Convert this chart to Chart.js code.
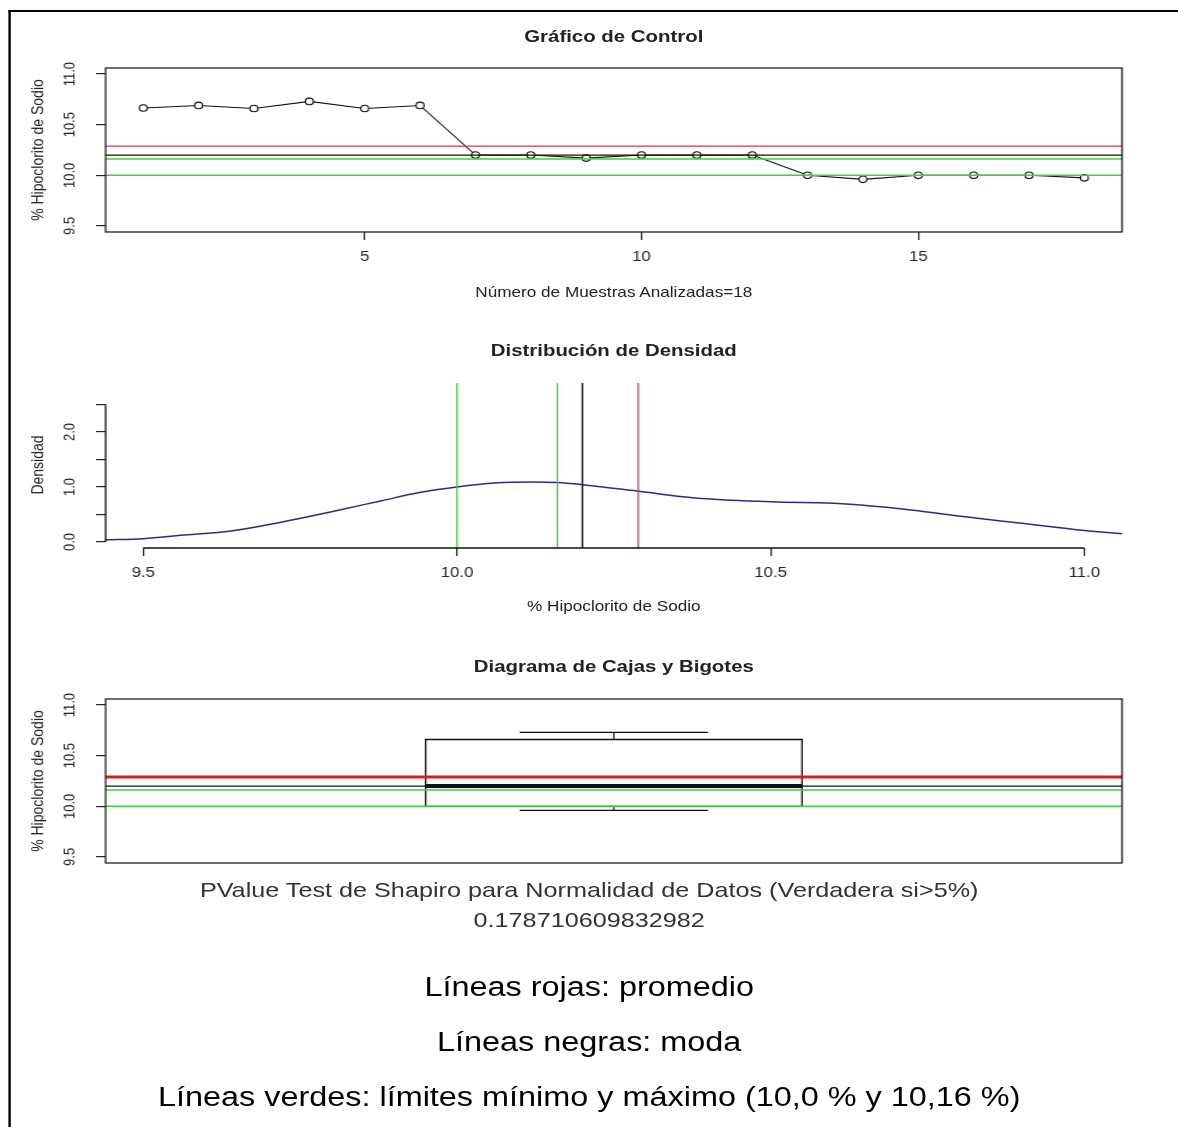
<!DOCTYPE html>
<html>
<head>
<meta charset="utf-8">
<script src="https://cdn.jsdelivr.net/npm/chart.js@4/dist/chart.umd.min.js"></script>
<style>
    html, body { margin: 0; padding: 0; background: #fff; overflow: hidden; }
    body { width: 1178px; height: 1127px; }
    #hoja {
        position: absolute; left: 0; top: 0;
        width: 982px; height: 1127px;
        transform: scaleX(1.2); transform-origin: 0 0;
        font-family: "Liberation Sans", Arial, sans-serif;
    }
    #marco {
        position: absolute; left: 7px; top: 10px; width: 1200px; height: 1300px;
        border-left: 2px solid #000; border-top: 2px solid #000;
    }
    canvas { position: absolute; left: 0; }
    .txt { position: absolute; white-space: nowrap; text-align: center; color: #222; }
    .titulo { left: 88px; width: 847px; font-weight: bold; font-size: 17px; line-height: 20px; }
    .ejex { left: 88px; width: 847px; font-size: 14.3px; line-height: 20px; }
    .ejey { width: 220px; height: 20px; font-size: 14px; line-height: 20px; transform: rotate(-90deg); }
    .pie { left: 0; width: 982px; }
    .nota { font-size: 27px; line-height: 34px; color: #000; }
</style>
</head>
<body>
<div id="hoja">
    <div id="marco"></div>

    <div class="txt titulo" style="top:27px">Gráfico de Control</div>
    <canvas id="control" width="982" height="300" style="top:0"></canvas>
    <div class="txt ejey" style="left:-79px; top:140px">% Hipoclorito de Sodio</div>
    <div class="txt ejex" style="top:282px">Número de Muestras Analizadas=18</div>

    <div class="txt titulo" style="top:341px">Distribución de Densidad</div>
    <canvas id="densidad" width="982" height="320" style="top:300px"></canvas>
    <div class="txt ejey" style="left:-79px; top:455px">Densidad</div>
    <div class="txt ejex" style="top:596px">% Hipoclorito de Sodio</div>

    <div class="txt titulo" style="top:657px">Diagrama de Cajas y Bigotes</div>
    <canvas id="cajas" width="982" height="260" style="top:620px"></canvas>
    <div class="txt ejey" style="left:-79px; top:771px">% Hipoclorito de Sodio</div>

    <div class="txt pie" style="top:877px; font-size:21px; line-height:26px; color:#333">PValue Test de Shapiro para Normalidad de Datos (Verdadera si&gt;5%)</div>
    <div class="txt pie" id="pvalor" style="top:907px; font-size:21px; line-height:26px; color:#333"></div>

    <div class="txt pie nota" style="top:970px">Líneas rojas: promedio</div>
    <div class="txt pie nota" style="top:1025px">Líneas negras: moda</div>
    <div class="txt pie nota" style="top:1080px">Líneas verdes: límites mínimo y máximo (10,0 % y 10,16 %)</div>
</div>

<script>
// Muestras analizadas y % de hipoclorito medido en cada una
const muestras = [1, 2, 3, 4, 5, 6, 7, 8, 9, 10, 11, 12, 13, 14, 15, 16, 17, 18];
const hipoclorito = [10.665, 10.69, 10.66, 10.73, 10.66, 10.69, 10.2, 10.2, 10.17,
                     10.2, 10.2, 10.2, 10.0, 9.96, 10.0, 10.0, 10.0, 9.975];

// Límites mínimo y máximo
const limites = [10.0, 10.16];

// Curva de densidad estimada
const densidadX = [9.44, 9.5, 9.56, 9.64, 9.72, 9.8, 9.88, 9.94, 10.0, 10.06, 10.12,
                   10.16, 10.2, 10.29, 10.38, 10.5, 10.62, 10.71, 10.8, 10.9, 11.0, 11.06];
const densidadY = [0.04, 0.06, 0.12, 0.2, 0.36, 0.55, 0.75, 0.9, 1.0, 1.07, 1.09,
                   1.08, 1.04, 0.92, 0.8, 0.73, 0.69, 0.6, 0.47, 0.34, 0.21, 0.15];

// Marcas de los ejes
const ticksMuestras = [5, 10, 15];
const ticksHipo = [9.5, 10.0, 10.5, 11.0];
const ticksDensX = [9.5, 10.0, 10.5, 11.0];
const ticksDensY = [0, 0.5, 1.0, 1.5, 2.0, 2.5];
const etiquetasDensY = [0, 1.0, 2.0];

const pValor = '0.178710609832982';

document.getElementById('pvalor').textContent = pValor;

// Estadísticos
const promedio = hipoclorito.reduce((a, b) => a + b, 0) / hipoclorito.length;

function calcularModa(v) {
    const cuenta = {};
    v.forEach(x => { cuenta[x] = (cuenta[x] || 0) + 1; });
    let moda = v[0];
    Object.keys(cuenta).forEach(k => { if (cuenta[k] > cuenta[moda]) moda = Number(k); });
    return moda;
}
const moda = calcularModa(hipoclorito);

// mínimo, bisagra inferior, mediana, bisagra superior, máximo (como fivenum de R)
function cincoNumeros(v) {
    const s = [...v].sort((a, b) => a - b);
    const n = s.length;
    const n4 = Math.floor((n + 3) / 2) / 2;
    const d = [1, n4, (n + 1) / 2, n + 1 - n4, n];
    return d.map(i => 0.5 * (s[Math.floor(i) - 1] + s[Math.ceil(i) - 1]));
}
const [minimo, q1, mediana, q3, maximo] = cincoNumeros(hipoclorito);

const FUENTE = '"Liberation Sans", Arial, sans-serif';
const ROJO = '#cf3a48';
const VERDE = '#45cc45';

// Etiquetas del eje Y giradas, como en los gráficos de R
const etiquetasY = {
    id: 'etiquetasY',
    afterDraw(chart, args, opts) {
        const y = chart.scales.y, ctx = chart.ctx;
        ctx.save();
        ctx.font = '13px ' + FUENTE;
        ctx.fillStyle = '#222';
        ctx.textAlign = 'center';
        ctx.textBaseline = 'middle';
        opts.valores.forEach(v => {
            ctx.save();
            ctx.translate(opts.x, y.getPixelForValue(v));
            ctx.rotate(-Math.PI / 2);
            ctx.fillText(v.toFixed(1), 0, 0);
            ctx.restore();
        });
        ctx.restore();
    }
};

// Líneas de referencia (promedio, moda y límites) y marco del área
const lineasRef = {
    id: 'lineasRef',
    afterDatasetsDraw(chart, args, opts) {
        const {ctx, chartArea: a, scales} = chart;
        ctx.save();
        (opts.horizontales || []).forEach(l => {
            const py = scales.y.getPixelForValue(l.valor);
            ctx.beginPath();
            ctx.strokeStyle = l.color;
            ctx.lineWidth = l.ancho;
            ctx.moveTo(a.left, py);
            ctx.lineTo(a.right, py);
            ctx.stroke();
        });
        (opts.verticales || []).forEach(l => {
            const px = scales.x.getPixelForValue(l.valor);
            ctx.beginPath();
            ctx.strokeStyle = l.color;
            ctx.lineWidth = l.ancho;
            ctx.moveTo(px, a.top);
            ctx.lineTo(px, a.bottom);
            ctx.stroke();
        });
        if (opts.marco) {
            ctx.strokeStyle = '#222';
            ctx.lineWidth = 1.3;
            ctx.strokeRect(a.left, a.top, a.right - a.left, a.bottom - a.top);
        }
        if (opts.ejesParciales) {
            const x = scales.x, y = scales.y;
            ctx.strokeStyle = '#111';
            ctx.lineWidth = 1.3;
            ctx.beginPath();
            ctx.moveTo(x.getPixelForValue(ticksDensX[0]), a.bottom);
            ctx.lineTo(x.getPixelForValue(ticksDensX[ticksDensX.length - 1]), a.bottom);
            ctx.moveTo(a.left, y.getPixelForValue(ticksDensY[0]));
            ctx.lineTo(a.left, y.getPixelForValue(ticksDensY[ticksDensY.length - 1]));
            ctx.stroke();
        }
        ctx.restore();
    }
};

const marcas = {
    display: true, drawOnChartArea: false, drawTicks: true,
    tickLength: 8, color: '#222', lineWidth: 1.2
};

function ejeFijo(valores, tamano, horizontal) {
    return {
        afterBuildTicks: s => { s.ticks = valores.map(v => ({value: v})); },
        afterFit: s => { if (horizontal) s.height = tamano; else s.width = tamano; }
    };
}

// Gráfico de control
new Chart(document.getElementById('control'), {
    type: 'scatter',
    data: {
        datasets: [{
            data: muestras.map((m, i) => ({x: m, y: hipoclorito[i]})),
            showLine: true,
            borderColor: '#111',
            borderWidth: 1.1,
            pointRadius: 3.3,
            pointBorderWidth: 1.1,
            pointBorderColor: '#111',
            pointBackgroundColor: '#fff'
        }]
    },
    options: {
        responsive: false,
        animation: false,
        layout: {padding: {left: 0, right: 47, top: 68, bottom: 0}},
        plugins: {
            legend: {display: false},
            tooltip: {enabled: false},
            etiquetasY: {valores: ticksHipo, x: 58},
            lineasRef: {
                marco: true,
                horizontales: [
                    {valor: promedio, color: ROJO, ancho: 1.2},
                    {valor: moda, color: '#111', ancho: 1.2},
                    {valor: limites[1], color: VERDE, ancho: 1.5},
                    {valor: limites[0], color: VERDE, ancho: 1.5}
                ]
            }
        },
        scales: {
            x: {
                type: 'linear', min: 0.32, max: 18.68,
                ...ejeFijo(ticksMuestras, 68, true),
                grid: marcas, border: {display: false},
                ticks: {color: '#222', padding: 9, font: {family: FUENTE, size: 14}, callback: v => String(v)}
            },
            y: {
                type: 'linear', min: 9.44, max: 11.06,
                ...ejeFijo(ticksHipo, 88, false),
                grid: marcas, border: {display: false},
                ticks: {display: false}
            }
        }
    },
    plugins: [etiquetasY, lineasRef]
});

// Distribución de densidad
new Chart(document.getElementById('densidad'), {
    type: 'scatter',
    data: {
        datasets: [{
            data: densidadX.map((x, i) => ({x: x, y: densidadY[i]})),
            showLine: true,
            cubicInterpolationMode: 'monotone',
            borderColor: '#2b2b86',
            borderWidth: 1.5,
            pointRadius: 0
        }]
    },
    options: {
        responsive: false,
        animation: false,
        layout: {padding: {left: 0, right: 47, top: 83, bottom: 0}},
        plugins: {
            legend: {display: false},
            tooltip: {enabled: false},
            etiquetasY: {valores: etiquetasDensY, x: 58},
            lineasRef: {
                ejesParciales: true,
                verticales: [
                    {valor: limites[0], color: VERDE, ancho: 1.3},
                    {valor: limites[1], color: VERDE, ancho: 1.3},
                    {valor: moda, color: '#111', ancho: 1.3},
                    {valor: promedio, color: ROJO, ancho: 1.3}
                ]
            }
        },
        scales: {
            x: {
                type: 'linear', min: 9.44, max: 11.06,
                ...ejeFijo(ticksDensX, 72, true),
                grid: marcas, border: {display: false},
                ticks: {color: '#222', padding: 9, font: {family: FUENTE, size: 14}, callback: v => v.toFixed(1)}
            },
            y: {
                type: 'linear', min: -0.11, max: 2.89,
                ...ejeFijo(ticksDensY, 88, false),
                grid: marcas, border: {display: false},
                ticks: {display: false}
            }
        }
    },
    plugins: [etiquetasY, lineasRef]
});

// Diagrama de cajas y bigotes
const centro = 1, mediaCaja = 0.2, mediaBigote = 0.1;
const segmento = (puntos, ancho) => ({
    data: puntos, showLine: true, borderColor: '#111', borderWidth: ancho, pointRadius: 0
});

new Chart(document.getElementById('cajas'), {
    type: 'scatter',
    data: {
        datasets: [
            segmento([
                {x: centro - mediaCaja, y: q1}, {x: centro + mediaCaja, y: q1},
                {x: centro + mediaCaja, y: q3}, {x: centro - mediaCaja, y: q3},
                {x: centro - mediaCaja, y: q1}
            ], 1.3),
            segmento([{x: centro - mediaCaja, y: mediana}, {x: centro + mediaCaja, y: mediana}], 4),
            segmento([{x: centro, y: q3}, {x: centro, y: maximo}], 1.2),
            segmento([{x: centro, y: q1}, {x: centro, y: minimo}], 1.2),
            segmento([{x: centro - mediaBigote, y: maximo}, {x: centro + mediaBigote, y: maximo}], 1.3),
            segmento([{x: centro - mediaBigote, y: minimo}, {x: centro + mediaBigote, y: minimo}], 1.3)
        ]
    },
    options: {
        responsive: false,
        animation: false,
        layout: {padding: {left: 0, right: 47, top: 79, bottom: 17}},
        plugins: {
            legend: {display: false},
            tooltip: {enabled: false},
            etiquetasY: {valores: ticksHipo, x: 58},
            lineasRef: {
                marco: true,
                horizontales: [
                    {valor: promedio, color: '#dd1a1a', ancho: 3},
                    {valor: moda, color: '#111', ancho: 1.2},
                    {valor: limites[1], color: VERDE, ancho: 1.5},
                    {valor: limites[0], color: VERDE, ancho: 1.5}
                ]
            }
        },
        scales: {
            x: {type: 'linear', min: 0.46, max: 1.54, display: false},
            y: {
                type: 'linear', min: 9.44, max: 11.06,
                ...ejeFijo(ticksHipo, 88, false),
                grid: marcas, border: {display: false},
                ticks: {display: false}
            }
        }
    },
    plugins: [etiquetasY, lineasRef]
});
</script>
</body>
</html>
